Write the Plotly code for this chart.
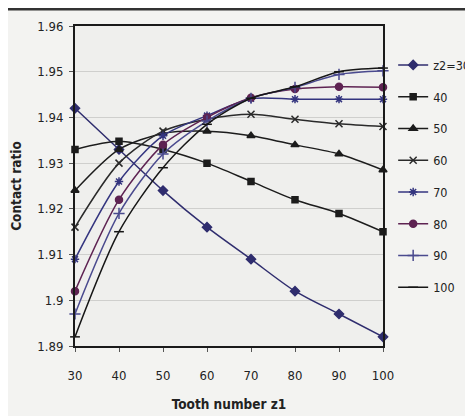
import plotly.graph_objects as go

# Data
z1 = [30, 40, 50, 60, 70, 80, 90, 100]
series_names = ["z2=30", "40", "50", "60", "70", "80", "90", "100"]
cr_z2_30 = [1.942, 1.933, 1.924, 1.916, 1.909, 1.902, 1.897, 1.892]
cr_z2_40 = [1.933, 1.9348, 1.933, 1.930, 1.926, 1.922, 1.919, 1.915]
cr_z2_50 = [1.924, 1.933, 1.9365, 1.937, 1.936, 1.934, 1.932, 1.9285]
cr_z2_60 = [1.916, 1.930, 1.937, 1.9396, 1.9407, 1.9396, 1.9386, 1.938]
cr_z2_70 = [1.909, 1.926, 1.936, 1.9404, 1.9441, 1.944, 1.944, 1.944]
cr_z2_80 = [1.902, 1.922, 1.934, 1.9400, 1.9443, 1.9462, 1.9467, 1.9466]
cr_z2_90 = [1.897, 1.919, 1.932, 1.9392, 1.9442, 1.9466, 1.9494, 1.9502]
cr_z2_100 = [1.892, 1.915, 1.929, 1.9385, 1.9442, 1.9467, 1.9500, 1.9508]
y_ticks = [1.89, 1.90, 1.91, 1.92, 1.93, 1.94, 1.95, 1.96]
y_tick_labels = ["1.89", "1.9", "1.91", "1.92", "1.93", "1.94", "1.95", "1.96"]
x_ticks = [30, 40, 50, 60, 70, 80, 90, 100]

all_series = [cr_z2_30, cr_z2_40, cr_z2_50, cr_z2_60, cr_z2_70, cr_z2_80, cr_z2_90, cr_z2_100]

colors = ["#2f2d6e", "#1c1c1c", "#1c1c1c", "#2a2a2a", "#34357f", "#5e2352", "#4a4a8e", "#161616"]
symbols = ["diamond", "square", "triangle-up", "x-thin-open", "asterisk-open",
           "circle", "cross-thin-open", "line-ew-open"]
sizes = [7, 6, 7, 7, 7, 7, 8, 7]

FONT = "DejaVu Sans Condensed, Liberation Sans Narrow, Arial Narrow, sans-serif"

fig = go.Figure()
for i, (name, vals) in enumerate(zip(series_names, all_series)):
    fig.add_trace(go.Scatter(
        x=z1, y=vals, name=name, mode="lines+markers",
        line=dict(color=colors[i], width=1.5, shape="spline", smoothing=0.8),
        marker=dict(symbol=symbols[i], size=sizes[i], color=colors[i],
                    line=dict(color=colors[i], width=1.5)),
        legendgroup=name, cliponaxis=False,
    ))

fig.update_layout(
    width=473, height=416,
    margin=dict(l=67, r=98, t=18, b=78, autoexpand=False),
    paper_bgcolor="#f3f3f1",
    plot_bgcolor="#efefed",
    font=dict(family=FONT, size=13, color="#222222"),
    showlegend=True,
    legend=dict(x=1.033, xanchor="left", y=0.924, yanchor="top",
                bgcolor="rgba(0,0,0,0)", tracegroupgap=12.5,
                font=dict(family=FONT, size=12.5, color="#222222"),
                itemwidth=30),
    xaxis=dict(
        range=[30, 100], tickvals=x_ticks, ticktext=[str(v) for v in x_ticks],
        showgrid=False, zeroline=False,
        showline=True, linecolor="#1a1a1a", linewidth=2, mirror=True,
        ticks="outside", ticklen=4, tickcolor="#555555", tickwidth=1,
        ticklabelstandoff=12,
        title=dict(text="<b>Tooth number z1</b>", standoff=18,
                   font=dict(family=FONT, size=13.5, color="#222222")),
    ),
    yaxis=dict(
        range=[1.89, 1.96], tickvals=y_ticks, ticktext=y_tick_labels,
        showgrid=True, gridcolor="#cfcfcd", gridwidth=1, zeroline=False,
        showline=True, linecolor="#1a1a1a", linewidth=2, mirror=True,
        ticks="outside", ticklen=4, tickcolor="#555555", tickwidth=1,
        ticklabelstandoff=3,
        title=dict(text="<b>Contact ratio</b>", standoff=14,
                   font=dict(family=FONT, size=13.5, color="#222222")),
    ),
    shapes=[dict(type="rect", xref="paper", yref="paper",
                 x0=-67 / 308, x1=1 + 98 / 308, y0=1 + 15.5 / 320, y1=1 + 18 / 320,
                 fillcolor="#333333", line=dict(width=0))],
)

fig.write_html("out.html")
